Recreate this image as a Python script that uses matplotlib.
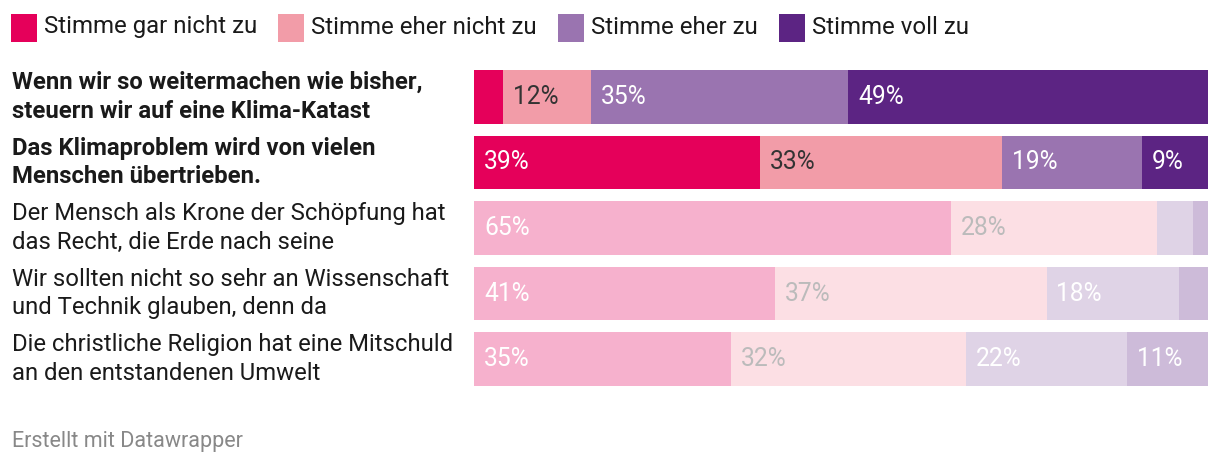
import numpy as np
import matplotlib.pyplot as plt
from matplotlib.patches import Rectangle

plt.rcParams['font.family'] = ['Roboto', 'DejaVu Sans']

categories = ["Stimme gar nicht zu", "Stimme eher nicht zu", "Stimme eher zu", "Stimme voll zu"]
questions = [
    "Wenn wir so weitermachen wie bisher,\nsteuern wir auf eine Klima-Katast",
    "Das Klimaproblem wird von vielen\nMenschen übertrieben.",
    "Der Mensch als Krone der Schöpfung hat\ndas Recht, die Erde nach seine",
    "Wir sollten nicht so sehr an Wissenschaft\nund Technik glauben, denn da",
    "Die christliche Religion hat eine Mitschuld\nan den entstandenen Umwelt",
]
highlighted = [True, True, False, False, False]

gar_nicht = [4, 39, 65, 41, 35]
eher_nicht = [12, 33, 28, 37, 32]
eher_zu = [35, 19, 5, 18, 22]
voll_zu = [49, 9, 2, 4, 11]
values = np.array([gar_nicht, eher_nicht, eher_zu, voll_zu])

colors_full = ["#e5005a", "#f29ca8", "#9a74b0", "#5c2483"]
colors_faded = ["#f6b1cd", "#fcdfe4", "#dfd3e6", "#cdbbd9"]
label_full = ["white", "#333333", "white", "white"]
label_faded = ["white", "#bbbbbb", "white", "white"]

W, H = 1220, 466
fig = plt.figure(figsize=(W / 100, H / 100), dpi=100)
ax = fig.add_axes([474 / W, 1 - 386 / H, (1208 - 474) / W, (386 - 70) / H])

bar_h = 0.824
y = np.arange(len(questions))
left = np.zeros(len(questions))
for j, cat in enumerate(categories):
    for i in range(len(questions)):
        v = values[j, i]
        col = colors_full[j] if highlighted[i] else colors_faded[j]
        ax.barh(y[i], v, left=left[i], height=bar_h, color=col, linewidth=0)
        if v >= 8:
            tc = label_full[j] if highlighted[i] else label_faded[j]
            ax.text(left[i] + 1.35, y[i], f"{v}%", ha="left", va="center",
                    fontsize=17.7, color=tc)
    left += values[j]

ax.set_xlim(0, 100)
ax.set_ylim(len(questions) - 1 + bar_h / 2, -bar_h / 2)
ax.axis("off")

# row labels, left edge of the figure, centred on each bar
for i, q in enumerate(questions):
    yfig = fig.transFigure.inverted().transform(ax.transData.transform((0, y[i])))[1]
    fig.text(12 / W, yfig, q, ha="left", va="center",
             fontsize=17.2, color="#1a1a1a", linespacing=1.33,
             fontweight="bold" if highlighted[i] else "normal")

# legend
fig.canvas.draw()
renderer = fig.canvas.get_renderer()
x = 11
for cat, col in zip(categories, colors_full):
    fig.patches.append(Rectangle((x / W, 1 - 42 / H), 26 / W, 28 / H,
                                 transform=fig.transFigure, color=col, linewidth=0))
    t = fig.text((x + 33) / W, 1 - 27 / H, cat, ha="left", va="center",
                 fontsize=17.3, color="#1a1a1a")
    bb = t.get_window_extent(renderer)
    x = bb.x1 + 21

fig.text(12 / W, 1 - 441 / H, "Erstellt mit Datawrapper", ha="left", va="center",
         fontsize=15.5, color="#888888")

fig.savefig("out.png", dpi=100)
